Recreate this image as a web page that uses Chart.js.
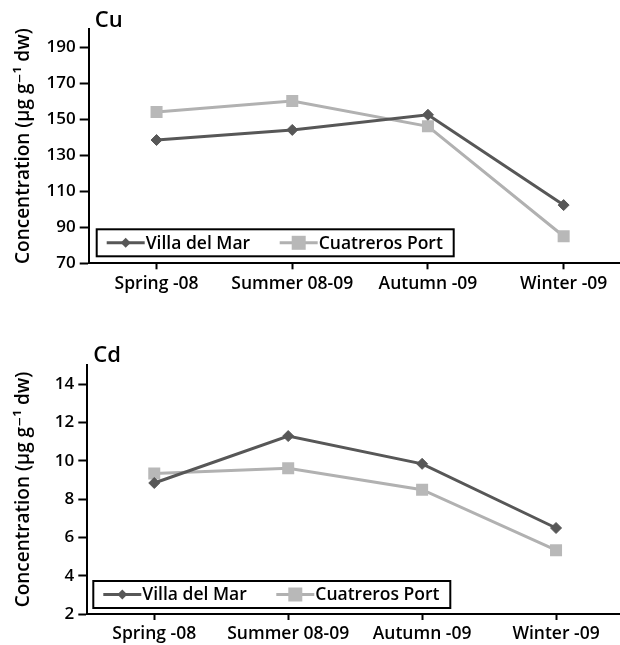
<!DOCTYPE html>
<html>
<head>
<meta charset="utf-8">
<script src="https://cdn.jsdelivr.net/npm/chart.js"></script>
<style>
  html, body { margin: 0; padding: 0; background: #fff; overflow: hidden; }
  #wrap { position: relative; width: 620px; height: 645px; overflow: hidden; }
  canvas { position: absolute; left: 0; }
  #cuChart { top: 0; }
  #cdChart { top: 320px; }
</style>
</head>
<body>
<div id="wrap">
  <canvas id="cuChart" width="640" height="300"></canvas>
  <canvas id="cdChart" width="640" height="325"></canvas>
</div>
<script>
// Data
const seasons = ['Spring -08', 'Summer 08-09', 'Autumn -09', 'Winter -09'];
const seriesNames = ['Villa del Mar', 'Cuatreros Port'];

const cuVilla = [138.4, 144.0, 152.4, 102.3];
const cuCuatreros = [154.0, 160.1, 146.0, 85.0];
const cuTicks = [70, 90, 110, 130, 150, 170, 190];

const cdVilla = [8.84, 11.29, 9.84, 6.49];
const cdCuatreros = [9.33, 9.61, 8.49, 5.33];
const cdTicks = [2, 4, 6, 8, 10, 12, 14];

const FONT = "'Open Sans', 'DejaVu Sans', sans-serif";
const darkGrey = '#575757';
const lightGrey = '#b1b1b1';

// Panel letter (Cu / Cd) at top-left of the plot
const panelLabel = {
  id: 'panelLabel',
  afterDraw(chart, args, opts) {
    const ctx = chart.ctx;
    const area = chart.chartArea;
    ctx.save();
    ctx.font = `600 22px ${FONT}`;
    ctx.fillStyle = '#000';
    ctx.textBaseline = 'middle';
    ctx.textAlign = 'left';
    ctx.fillText(opts.text, area.left + 6, area.top + opts.dy);
    ctx.restore();
  }
};

// Boxed legend inside the plot, bottom-left
const boxLegend = {
  id: 'boxLegend',
  afterDraw(chart, args, opts) {
    const ctx = chart.ctx;
    const area = chart.chartArea;
    const x = area.left + opts.dx;
    const h = 27, w = 357;
    const y = area.bottom - opts.dy - h;
    const cy = y + h / 2;
    ctx.save();
    ctx.fillStyle = '#fff';
    ctx.fillRect(x, y, w, h);
    ctx.lineWidth = 2;
    ctx.strokeStyle = '#000';
    ctx.strokeRect(x, y, w, h);

    const items = chart.data.datasets;
    const starts = [10, 183];
    items.forEach((ds, i) => {
      const sx = x + starts[i];
      ctx.strokeStyle = ds.borderColor;
      ctx.lineWidth = 3;
      ctx.beginPath();
      ctx.moveTo(sx, cy);
      ctx.lineTo(sx + 38, cy);
      ctx.stroke();
      const mx = sx + 19;
      ctx.fillStyle = ds.pointBackgroundColor;
      ctx.beginPath();
      if (ds.pointStyle === 'rectRot') {
        ctx.moveTo(mx - 5, cy);
        ctx.lineTo(mx, cy - 5);
        ctx.lineTo(mx + 5, cy);
        ctx.lineTo(mx, cy + 5);
        ctx.closePath();
      } else {
        ctx.rect(mx - 7, cy - 7, 14, 14);
      }
      ctx.fill();
      ctx.fillStyle = '#000';
      ctx.font = `600 17.5px ${FONT}`;
      ctx.textBaseline = 'middle';
      ctx.textAlign = 'left';
      ctx.fillText(ds.label, sx + 39, cy + 1);
    });
    ctx.restore();
  }
};

function makeDatasets(villa, cuatreros) {
  return [
    {
      label: seriesNames[0], data: villa,
      borderColor: darkGrey, backgroundColor: darkGrey,
      pointBackgroundColor: darkGrey, pointBorderColor: darkGrey,
      borderWidth: 3, pointStyle: 'rectRot', pointRadius: 5.5, pointBorderWidth: 1,
      tension: 0, order: 1
    },
    {
      label: seriesNames[1], data: cuatreros,
      borderColor: lightGrey, backgroundColor: '#b8b8b8',
      pointBackgroundColor: '#b8b8b8', pointBorderColor: '#b8b8b8',
      borderWidth: 3, pointStyle: 'rect', pointRadius: 8.5, pointBorderWidth: 0,
      tension: 0, order: 2
    }
  ];
}

function makeChart(id, villa, cuatreros, yMin, yMax, tickList, cfg) {
  const ctx = document.getElementById(id).getContext('2d');
  return new Chart(ctx, {
    type: 'line',
    data: { labels: seasons, datasets: makeDatasets(villa, cuatreros) },
    plugins: [panelLabel, boxLegend],
    options: {
      responsive: false,
      animation: false,
      layout: { padding: { top: cfg.top, right: cfg.right, left: 0, bottom: 0 } },
      plugins: {
        legend: { display: false },
        tooltip: { enabled: false },
        panelLabel: { text: cfg.label, dy: cfg.labelDy },
        boxLegend: { dx: cfg.legendDx, dy: cfg.legendDy }
      },
      scales: {
        x: {
          offset: true,
          grid: { display: true, drawOnChartArea: false, drawTicks: true, tickLength: 6, tickWidth: 2, tickColor: '#000' },
          border: { display: true, color: '#000', width: 2 },
          ticks: { color: '#000', font: { family: FONT, size: 17.5, weight: '600' }, padding: 4, maxRotation: 0 },
          afterFit: (scale) => { scale.height = cfg.xHeight; }
        },
        y: {
          min: yMin, max: yMax,
          grid: { display: true, drawOnChartArea: false, drawTicks: true, tickLength: 9, tickWidth: 2, tickColor: '#000' },
          border: { display: true, color: '#000', width: 2 },
          ticks: { color: '#000', font: { family: FONT, size: 17, weight: '600' }, padding: 4 },
          afterBuildTicks: (scale) => { scale.ticks = tickList.map(v => ({ value: v })); },
          afterFit: (scale) => { scale.width = cfg.yWidth; },
          title: {
            display: true,
            text: 'Concentration (µg g⁻¹ dw)',
            color: '#000',
            font: { family: FONT, size: 19, weight: '600' },
            padding: { top: 12, bottom: 0 }
          }
        }
      }
    }
  });
}

makeChart('cuChart', cuVilla, cuCuatreros, 70, 200, cuTicks, {
  top: 29, right: 7, xHeight: 36.7, yWidth: 88.7,
  label: 'Cu', labelDy: -8, legendDx: 8, legendDy: 7
});

makeChart('cdChart', cdVilla, cdCuatreros, 2, 15, cdTicks, {
  top: 45, right: 17, xHeight: 31, yWidth: 87.3,
  label: 'Cd', labelDy: -9, legendDx: 6, legendDy: 6
});
</script>
</body>
</html>
